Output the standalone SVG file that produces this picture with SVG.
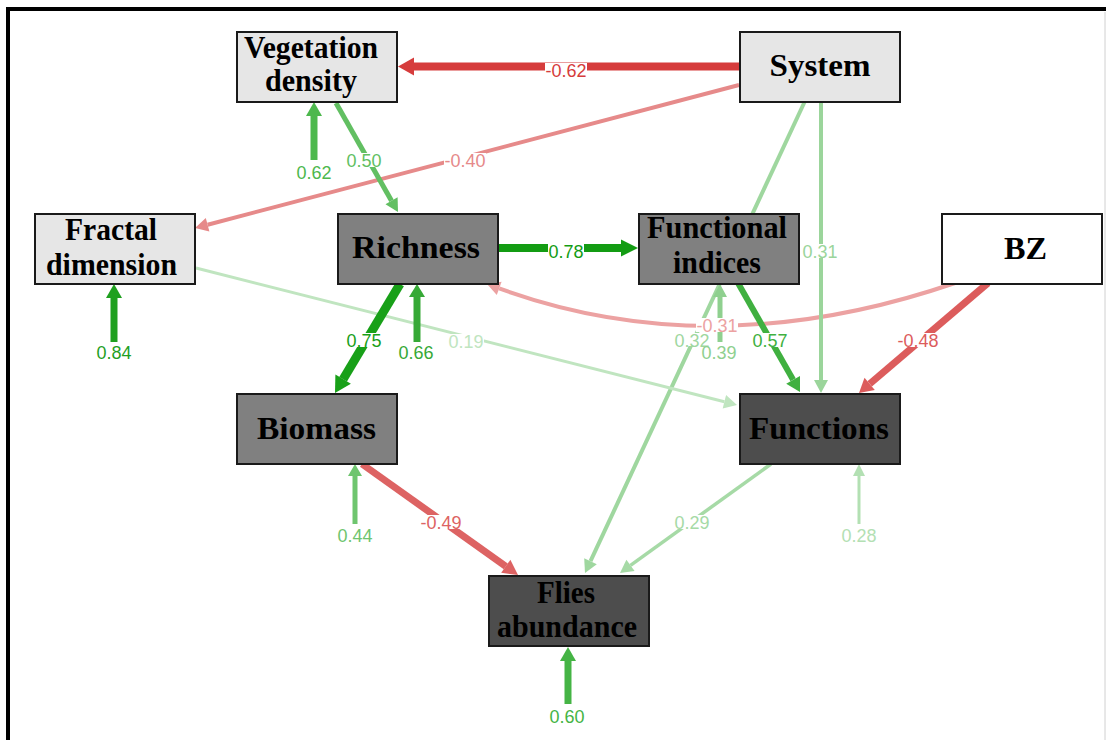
<svg xmlns="http://www.w3.org/2000/svg" width="1106" height="740" viewBox="0 0 1106 740">
<style>
.frame{fill:none;stroke:#000;stroke-width:4}
.node rect{stroke:#1a1a1a;stroke-width:2}
.light{fill:#e6e6e6}.mid{fill:#808080}.dark{fill:#4d4d4d}.white{fill:#fff}
.node text{font-family:"Liberation Serif","Times New Roman",serif;font-weight:bold;font-size:32px;fill:#000;text-anchor:middle}
.e line,.e path{fill:none}
.e polygon{stroke:none}
.lbl{font-family:"Liberation Sans",Arial,sans-serif;font-size:18px;text-anchor:middle}
.bg{fill:#fff}
.r1{stroke:#d63c3c;fill:#d63c3c}.r2{stroke:#e68a8a;fill:#e68a8a}.r3{stroke:#eca2a2;fill:#eca2a2}.r4{stroke:#dc5c5c;fill:#dc5c5c}.r5{stroke:#dd6363;fill:#dd6363}
.g78{stroke:#139c13;fill:#139c13}.g75{stroke:#18a018;fill:#18a018}.g84{stroke:#1fa01f;fill:#1fa01f}.g66{stroke:#36a936;fill:#36a936}
.g62{stroke:#4db84d;fill:#4db84d}.g60{stroke:#45b445;fill:#45b445}.g57{stroke:#40b040;fill:#40b040}.g50{stroke:#62bf62;fill:#62bf62}
.g44{stroke:#6fc56f;fill:#6fc56f}.g39{stroke:#8fd08f;fill:#8fd08f}.g31{stroke:#9bd59b;fill:#9bd59b}.g32{stroke:#9fd79f;fill:#9fd79f}
.g29{stroke:#a6daa6;fill:#a6daa6}.g28{stroke:#b3e0b3;fill:#b3e0b3}.g19{stroke:#c0e5c0;fill:#c0e5c0}
text.lbl{stroke:none}
</style>
<rect x="0" y="0" width="1106" height="740" fill="#fff"/>
<path class="frame" d="M8,742 V9 H1106"/>
<line x1="1105" y1="12" x2="1105" y2="740" stroke="#d0d0d0" stroke-width="1"/>

<g id="connectors">
  <g class="e r1"><line x1="739" y1="66.5" x2="413" y2="66.5" stroke-width="8"/><polygon points="398,66.5 414,57.5 414,75.5"/></g>
  <g class="e r2"><line x1="739" y1="85" x2="207.6" y2="224.7" stroke-width="4"/><polygon points="195,228 205.8,217.9 209.4,231.5"/></g>
  <g class="e g50"><line x1="336" y1="103" x2="391.5" y2="200.7" stroke-width="5"/><polygon points="398,212 385.5,204.2 397.6,197.2"/></g>
  <g class="e g62"><line x1="314" y1="160" x2="314" y2="115" stroke-width="7"/><polygon points="314,102 306,116 322,116"/></g>
  <g class="e g78"><line x1="498" y1="248" x2="622" y2="248" stroke-width="8"/><polygon points="638,248 621,239.5 621,256.5"/></g>
  <g class="e r3"><path d="M955,283 Q713,366 499.2,288.4" stroke-width="4"/><polygon points="487,284 501.6,281.8 496.8,295.0"/></g>
  <g class="e r4"><line x1="988" y1="283" x2="869.7" y2="383.9" stroke-width="7"/><polygon points="859,393 864.5,377.8 874.8,390.0"/></g>
  <g class="e g31"><line x1="821" y1="101" x2="821" y2="381" stroke-width="4"/><polygon points="821,393 814,380 828,380"/></g>
  <g class="e g32"><line x1="805" y1="101" x2="590.5" y2="561.2" stroke-width="4"/><polygon points="585,573 584.2,558.3 596.8,564.2"/></g>
  <g class="e g57"><line x1="738" y1="283" x2="793.1" y2="379.8" stroke-width="6"/><polygon points="800,392 786.2,383.8 800.0,375.9"/></g>
  <g class="e g19"><line x1="196" y1="268" x2="724.4" y2="401.8" stroke-width="3"/><polygon points="737,405 722.7,408.6 726.1,395.0"/></g>
  <g class="e g75"><line x1="400" y1="284" x2="343.1" y2="379.2" stroke-width="9"/><polygon points="335,393 335.4,374.6 350.9,383.8"/></g>
  <g class="e g66"><line x1="417" y1="342" x2="417" y2="296" stroke-width="7"/><polygon points="417,284 409,297 425,297"/></g>
  <g class="e g84"><line x1="114" y1="342" x2="114" y2="297" stroke-width="7"/><polygon points="114,284 106,298 122,298"/></g>
  <g class="e r5"><line x1="362" y1="464" x2="505.8" y2="566.3" stroke-width="7"/><polygon points="518,575 501.2,572.8 510.4,559.8"/></g>
  <g class="e g44"><line x1="355" y1="524" x2="355" y2="475" stroke-width="5"/><polygon points="355,464 348,476 362,476"/></g>
  <g class="e g29"><line x1="771" y1="464" x2="630.5" y2="565.4" stroke-width="3.5"/><polygon points="620,573 626.4,559.7 634.6,571.1"/></g>
  <g class="e g28"><line x1="859" y1="524" x2="859" y2="475" stroke-width="3"/><polygon points="859,464 853,476 865,476"/></g>
  <g class="e g60"><line x1="568" y1="704" x2="568" y2="660" stroke-width="7"/><polygon points="568,647 560,661 576,661"/></g>
  <g class="e g39"><line x1="720" y1="342" x2="720" y2="296" stroke-width="5"/><polygon points="720,284 713,297 727,297"/></g>

  <g id="labels">
    <rect class="bg" x="545" y="63" width="42" height="14"/><text class="lbl r1" x="566" y="76.5">-0.62</text>
    <rect class="bg" x="444" y="153" width="42" height="14"/><text class="lbl r2" x="465" y="166.5">-0.40</text>
    <rect class="bg" x="346" y="153" width="36" height="14"/><text class="lbl g50" x="364" y="166.5">0.50</text>
    <text class="lbl g62" x="314" y="178.5">0.62</text>
    <text class="lbl g84" x="114" y="358.5">0.84</text>
    <rect class="bg" x="346" y="333" width="36" height="14"/><text class="lbl g75" x="364" y="346.5">0.75</text>
    <text class="lbl g66" x="416" y="358.5">0.66</text>
    <rect class="bg" x="448" y="334" width="36" height="14"/><text class="lbl g19" x="466" y="347.5">0.19</text>
    <rect class="bg" x="548" y="244" width="36" height="14"/><text class="lbl g78" x="566" y="257.5">0.78</text>
    <rect class="bg" x="802" y="244" width="36" height="14"/><text class="lbl g31" x="820" y="257.5">0.31</text>
    <rect class="bg" x="696" y="318" width="42" height="14"/><text class="lbl r3" x="717" y="331.5">-0.31</text>
    <rect class="bg" x="674" y="333" width="36" height="13"/><text class="lbl g32" x="692" y="346.5">0.32</text>
    <text class="lbl g39" x="719" y="358.5">0.39</text>
    <rect class="bg" x="752" y="333" width="36" height="14"/><text class="lbl g57" x="770" y="346.5">0.57</text>
    <rect class="bg" x="897" y="333" width="42" height="14"/><text class="lbl r4" x="918" y="346.5">-0.48</text>
    <text class="lbl g44" x="355" y="541.5">0.44</text>
    <rect class="bg" x="420" y="515" width="42" height="14"/><text class="lbl r5" x="441" y="528.5">-0.49</text>
    <rect class="bg" x="674" y="515" width="36" height="14"/><text class="lbl g29" x="692" y="528.5">0.29</text>
    <text class="lbl g28" x="859" y="541.5">0.28</text>
    <text class="lbl g60" x="567" y="722.5">0.60</text>
  </g>
</g>

<g id="node-vegetation" class="node"><rect class="light" x="237" y="32" width="160" height="70"/><text x="311" y="58" textLength="134" lengthAdjust="spacingAndGlyphs">Vegetation</text><text x="311" y="91" textLength="92" lengthAdjust="spacingAndGlyphs">density</text></g>
<g id="node-system" class="node"><rect class="light" x="740" y="32" width="160" height="70"/><text x="820" y="76" textLength="101" lengthAdjust="spacingAndGlyphs">System</text></g>
<g id="node-fractal" class="node"><rect class="light" x="35" y="214" width="160" height="70"/><text x="111" y="240" textLength="92" lengthAdjust="spacingAndGlyphs">Fractal</text><text x="111.5" y="275" textLength="131" lengthAdjust="spacingAndGlyphs">dimension</text></g>
<g id="node-richness" class="node"><rect class="mid" x="338" y="214" width="160" height="70"/><text x="416" y="258" textLength="128" lengthAdjust="spacingAndGlyphs">Richness</text></g>
<g id="node-functional" class="node"><rect class="mid" x="639" y="214" width="160" height="70"/><text x="717" y="238" textLength="140" lengthAdjust="spacingAndGlyphs">Functional</text><text x="717" y="273" textLength="88" lengthAdjust="spacingAndGlyphs">indices</text></g>
<g id="node-bz" class="node"><rect class="white" x="942" y="214" width="160" height="70"/><text x="1025.5" y="259" textLength="43" lengthAdjust="spacingAndGlyphs">BZ</text></g>
<g id="node-biomass" class="node"><rect class="mid" x="237" y="394" width="160" height="70"/><text x="316.5" y="439" textLength="119" lengthAdjust="spacingAndGlyphs">Biomass</text></g>
<g id="node-functions" class="node"><rect class="dark" x="740" y="394" width="160" height="70"/><text x="819" y="439" textLength="140" lengthAdjust="spacingAndGlyphs">Functions</text></g>
<g id="node-flies" class="node"><rect class="dark" x="489" y="576" width="160" height="70"/><text x="566" y="603" textLength="58" lengthAdjust="spacingAndGlyphs">Flies</text><text x="567" y="637" textLength="140" lengthAdjust="spacingAndGlyphs">abundance</text></g>
</svg>
